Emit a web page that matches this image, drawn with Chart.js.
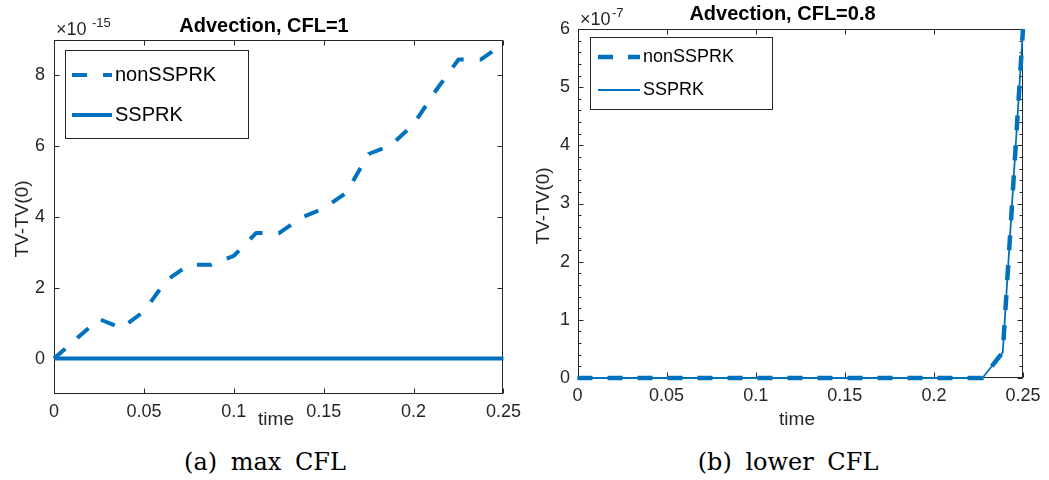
<!DOCTYPE html>
<html lang="en">
<head>
<meta charset="UTF-8" />
<title>Advection TV-TV(0)</title>
<style>
    body {
        margin: 0;
        background: #fff;
    }
    .panel {
        position: absolute;
        top: 0;
    }
    .caption {
        position: absolute;
        top: 448px;
        font-family: 'DejaVu Serif', 'Liberation Serif', serif;
        font-size: 24px;
        line-height: 28px;
        word-spacing: 6px;
        color: #000;
        white-space: nowrap;
        transform: translateX(-50%);
    }
</style>
</head>
<body>
<canvas id="chartA" class="panel" width="528" height="440" style="left:0px"></canvas>
<canvas id="chartB" class="panel" width="533" height="440" style="left:516px"></canvas>
<div class="caption" style="left:265px">(a) max CFL</div>
<div class="caption" style="left:788px">(b) lower CFL</div>

<script src="https://cdn.jsdelivr.net/npm/chart.js"></script>
<script>
    // (a) CFL = 1, dt = 0.0125 ; values in units of 1e-15
    const timeA = [0, 0.0125, 0.025, 0.0375, 0.05, 0.0625, 0.075, 0.0875, 0.1, 0.1125, 0.125,
        0.1375, 0.15, 0.1625, 0.175, 0.1875, 0.2, 0.2125, 0.225, 0.2375, 0.25];
    const nonSsprkA = [0, 0.56, 1.12, 0.86, 1.33, 2.21, 2.65, 2.65, 2.9, 3.55, 3.54,
        3.98, 4.24, 4.68, 5.78, 6.03, 6.62, 7.58, 8.45, 8.45, 8.9];
    const ssprkA = [0, 0, 0, 0, 0, 0, 0, 0, 0, 0, 0,
        0, 0, 0, 0, 0, 0, 0, 0, 0, 0];

    // (b) CFL = 0.8, dt = 0.25/22 ; values in units of 1e-7
    const timeB = [0, 0.01136, 0.02273, 0.03409, 0.04545, 0.05682, 0.06818, 0.07955, 0.09091, 0.10227, 0.11364, 0.125,
        0.13636, 0.14773, 0.15909, 0.17045, 0.18182, 0.19318, 0.20455, 0.21591, 0.22727, 0.23864, 0.25];
    const nonSsprkB = [0, 0, 0, 0, 0, 0, 0, 0, 0, 0, 0, 0,
        0, 0, 0, 0, 0, 0, 0, 0, 0, 0.44, 6.0];
    const ssprkB = [0, 0, 0, 0, 0, 0, 0, 0, 0, 0, 0, 0,
        0, 0, 0, 0, 0, 0, 0, 0, 0, 0.44, 6.0];

    const timeTicks = [0, 0.05, 0.1, 0.15, 0.2, 0.25];
    const yTicksA = [0, 2, 4, 6, 8];
    const yTicksB = [0, 1, 2, 3, 4, 5, 6];

    const BLUE = '#0072bd';
    const INK = '#262626';
    const SANS = "'Liberation Sans', Arial, Helvetica, sans-serif";

    Chart.defaults.font.family = SANS;
    Chart.defaults.color = INK;

    // matlab style box: frame, inward ticks, labels, exponent, boxed legend
    const matlabAxes = {
        id: 'matlabAxes',
        beforeDatasetsDraw(chart, args, opts) {
            const {ctx, chartArea: a, scales: {x, y}} = chart;
            const L = Math.round(a.left) + 0.5, R = Math.round(a.right) - 0.5;
            const T = Math.round(a.top) + 0.5, B = Math.round(a.bottom) - 0.5;
            ctx.save();
            ctx.strokeStyle = INK;
            ctx.lineWidth = 1;
            ctx.strokeRect(L, T, R - L, B - T);
            ctx.beginPath();
            x.ticks.forEach(t => {
                const px = Math.round(x.getPixelForValue(t.value)) + 0.5;
                ctx.moveTo(px, B); ctx.lineTo(px, B - opts.tickLen);
                ctx.moveTo(px, T); ctx.lineTo(px, T + opts.tickLen);
            });
            y.ticks.forEach(t => {
                const py = Math.round(y.getPixelForValue(t.value)) + 0.5;
                ctx.moveTo(L, py); ctx.lineTo(L + opts.tickLen, py);
                ctx.moveTo(R, py); ctx.lineTo(R - opts.tickLen, py);
            });
            if (opts.minorStep) {
                const n = Math.round((y.max - y.min) / opts.minorStep);
                for (let i = 1; i < n; i++) {
                    if (i % opts.minorPerMajor === 0) continue;
                    const py = Math.round(y.getPixelForValue(y.min + i * opts.minorStep)) + 0.5;
                    ctx.moveTo(L, py); ctx.lineTo(L + opts.minorLen, py);
                    ctx.moveTo(R, py); ctx.lineTo(R - opts.minorLen, py);
                }
            }
            ctx.stroke();
            ctx.restore();
        },
        afterDraw(chart, args, opts) {
            const ctx = chart.ctx;
            ctx.save();

            // title
            ctx.fillStyle = '#000';
            ctx.font = 'bold 20px ' + SANS;
            ctx.textAlign = 'center';
            ctx.textBaseline = 'alphabetic';
            ctx.fillText(opts.title.text, opts.title.x, opts.title.y);

            // exponent of the y axis
            ctx.fillStyle = INK;
            ctx.textAlign = 'left';
            ctx.font = '18px ' + SANS;
            ctx.fillText('\u00d710', opts.expo.x, opts.expo.y);
            ctx.font = '13px ' + SANS;
            ctx.fillText(opts.expo.power, opts.expo.supX, opts.expo.supY);

            // axis labels
            ctx.font = '19px ' + SANS;
            ctx.textAlign = 'center';
            ctx.textBaseline = 'middle';
            ctx.fillText('time', opts.xLabel.x, opts.xLabel.y);
            ctx.save();
            ctx.translate(opts.yLabel.x, opts.yLabel.y);
            ctx.rotate(-Math.PI / 2);
            ctx.fillText('TV-TV(0)', 0, 0);
            ctx.restore();

            // legend box
            const lg = opts.legend;
            ctx.fillStyle = '#fff';
            ctx.fillRect(lg.x, lg.y, lg.w, lg.h);
            ctx.strokeStyle = INK;
            ctx.lineWidth = 1;
            ctx.strokeRect(lg.x + 0.5, lg.y + 0.5, lg.w, lg.h);
            ctx.font = lg.fontSize + 'px ' + SANS;
            ctx.textAlign = 'left';
            chart.data.datasets.forEach((ds, i) => {
                const yy = lg.rows[i];
                ctx.save();
                ctx.strokeStyle = ds.borderColor;
                ctx.lineWidth = ds.borderWidth;
                ctx.setLineDash(ds.borderDash || []);
                ctx.beginPath();
                ctx.moveTo(lg.lineFrom, yy);
                ctx.lineTo(lg.lineTo, yy);
                ctx.stroke();
                ctx.restore();
                ctx.fillStyle = '#000';
                ctx.fillText(ds.label, lg.textX, yy);
            });
            ctx.restore();
        }
    };

    function series(label, times, values, width, dash) {
        return {
            label: label,
            data: times.map((t, i) => ({x: t, y: values[i]})),
            borderColor: BLUE,
            backgroundColor: BLUE,
            borderWidth: width,
            borderDash: dash,
            borderCapStyle: 'butt',
            borderJoinStyle: 'round',
            pointRadius: 0,
            tension: 0,
            fill: false,
            clip: false
        };
    }

    function makePanel(id, datasets, cfg) {
        return new Chart(document.getElementById(id), {
            type: 'line',
            data: {datasets: datasets},
            options: {
                responsive: false,
                devicePixelRatio: 1,
                animation: false,
                layout: {padding: {left: 0, right: cfg.padRight, top: cfg.padTop, bottom: 0}},
                plugins: {
                    legend: {display: false},
                    tooltip: {enabled: false},
                    title: {display: false},
                    matlabAxes: cfg.decor
                },
                scales: {
                    x: {
                        type: 'linear',
                        min: 0,
                        max: 0.25,
                        grid: {display: false, drawTicks: false},
                        border: {display: false},
                        afterBuildTicks: s => { s.ticks = timeTicks.map(v => ({value: v})); },
                        afterFit: s => { s.height = cfg.xHeight; },
                        ticks: {
                            padding: 7,
                            color: INK,
                            font: {size: 18},
                            maxRotation: 0,
                            autoSkip: false,
                            callback: v => String(v)
                        }
                    },
                    y: {
                        type: 'linear',
                        min: cfg.yMin,
                        max: cfg.yMax,
                        grid: {display: false, drawTicks: false},
                        border: {display: false},
                        afterBuildTicks: s => { s.ticks = cfg.yTicks.map(v => ({value: v})); },
                        afterFit: s => { s.width = cfg.yWidth; },
                        ticks: {
                            padding: cfg.yPad,
                            color: INK,
                            font: {size: 18},
                            autoSkip: false,
                            callback: v => String(v)
                        }
                    }
                }
            },
            plugins: [matlabAxes]
        });
    }

    makePanel('chartA', [
        series('nonSSPRK', timeA, nonSsprkA, 4, [15, 16]),
        series('SSPRK', timeA, ssprkA, 4, [])
    ], {
        padRight: 23, padTop: 40, xHeight: 46, yWidth: 54, yPad: 9,
        yMin: -1, yMax: 9, yTicks: yTicksA,
        decor: {
            tickLen: 5,
            title: {text: 'Advection, CFL=1', x: 264, y: 31.5},
            expo: {x: 56, y: 35, power: '-15', supX: 92, supY: 26.5},
            xLabel: {x: 276, y: 420},
            yLabel: {x: 22.5, y: 219},
            legend: {x: 65, y: 50, w: 183, h: 88, rows: [75, 115], lineFrom: 72, lineTo: 112, textX: 115, fontSize: 20}
        }
    });

    makePanel('chartB', [
        series('nonSSPRK', timeB, nonSsprkB, 4.5, [15, 15]),
        series('SSPRK', timeB, ssprkB, 1.8, [])
    ], {
        padRight: 26, padTop: 29, xHeight: 62, yWidth: 61.5, yPad: 7.5,
        yMin: 0, yMax: 6, yTicks: yTicksB,
        decor: {
            tickLen: 5, minorStep: 0.2, minorPerMajor: 5, minorLen: 3,
            title: {text: 'Advection, CFL=0.8', x: 266.5, y: 19.5},
            expo: {x: 64, y: 25, power: '-7', supX: 96, supY: 16.5},
            xLabel: {x: 281, y: 420},
            yLabel: {x: 28, y: 206},
            legend: {x: 74, y: 37, w: 182, h: 72, rows: [57, 90], lineFrom: 82, lineTo: 124, textX: 127, fontSize: 18}
        }
    });
</script>
</body>
</html>
